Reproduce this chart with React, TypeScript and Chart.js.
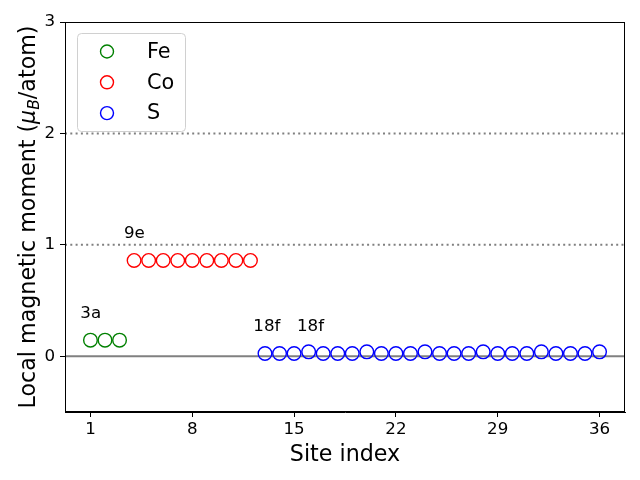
import { useEffect, useRef } from "react";
import { Chart, registerables } from "chart.js";

Chart.register(...registerables);

const feSites = [1, 2, 3];
const feMoments = [0.145, 0.145, 0.145];
const coSites = [4, 5, 6, 7, 8, 9, 10, 11, 12];
const coMoments = [0.86, 0.86, 0.86, 0.86, 0.86, 0.86, 0.86, 0.86, 0.86];
const sSites = [13, 14, 15, 16, 17, 18, 19, 20, 21, 22, 23, 24, 25, 26, 27, 28, 29, 30, 31, 32, 33, 34, 35, 36];
const sMoments = [
  0.025, 0.025, 0.025, 0.04, 0.025, 0.025, 0.025, 0.04, 0.025, 0.025, 0.025, 0.04,
  0.025, 0.025, 0.025, 0.04, 0.025, 0.025, 0.025, 0.04, 0.025, 0.025, 0.025, 0.04,
];
const xTicks = [1, 8, 15, 22, 29, 36];
const yTicks = [0, 1, 2, 3];
const annotationLabels = ["3a", "9e", "18f", "18f"];
const annotationX = [0.3, 3.3, 12.2, 15.2];
const annotationY = [0.345, 1.06, 0.225, 0.225];
const dottedLevels = [1, 2];
const solidLevels = [0];

const FONT = "'DejaVu Sans', sans-serif";

const overlay = {
  id: "overlay",
  beforeDatasetsDraw(chart: any) {
    const { ctx, chartArea, scales } = chart;
    ctx.save();
    ctx.strokeStyle = "#808080";
    ctx.lineWidth = 2;
    solidLevels.forEach((v) => {
      const y = scales.y.getPixelForValue(v);
      ctx.setLineDash([]);
      ctx.beginPath();
      ctx.moveTo(chartArea.left, y);
      ctx.lineTo(chartArea.right, y);
      ctx.stroke();
    });
    dottedLevels.forEach((v) => {
      const y = scales.y.getPixelForValue(v);
      ctx.setLineDash([2, 3.3]);
      ctx.beginPath();
      ctx.moveTo(chartArea.left, y);
      ctx.lineTo(chartArea.right, y);
      ctx.stroke();
    });
    ctx.restore();
  },
  afterDraw(chart: any) {
    const { ctx, chartArea, scales } = chart;
    ctx.save();
    // frame
    ctx.strokeStyle = "#000";
    ctx.lineWidth = 1;
    ctx.setLineDash([]);
    ctx.strokeRect(chartArea.left + 0.5, chartArea.top + 0.5, chartArea.right - chartArea.left - 1, chartArea.bottom - chartArea.top - 1);

    // annotations
    ctx.fillStyle = "#000";
    ctx.font = `16.7px ${FONT}`;
    ctx.textAlign = "left";
    ctx.textBaseline = "alphabetic";
    annotationLabels.forEach((t, i) => {
      ctx.fillText(t, scales.x.getPixelForValue(annotationX[i]), scales.y.getPixelForValue(annotationY[i]));
    });

    // legend
    const lx = 77, ly = 33, lw = 108, lh = 98;
    ctx.beginPath();
    ctx.roundRect(lx + 0.5, ly + 0.5, lw, lh, 4);
    ctx.fillStyle = "rgba(255,255,255,0.8)";
    ctx.fill();
    ctx.strokeStyle = "#d0d0d0";
    ctx.lineWidth = 1;
    ctx.stroke();
    chart.data.datasets.forEach((ds: any, i: number) => {
      const cy = 51.5 + i * 30.8;
      ctx.beginPath();
      ctx.arc(107, cy, 6.5, 0, Math.PI * 2);
      ctx.strokeStyle = ds.borderColor;
      ctx.lineWidth = 1.4;
      ctx.stroke();
      ctx.fillStyle = "#000";
      ctx.font = `20.8px ${FONT}`;
      ctx.textBaseline = "middle";
      ctx.fillText(ds.label, 147, cy + 1);
    });

    // x label
    ctx.font = `22.2px ${FONT}`;
    ctx.textAlign = "center";
    ctx.textBaseline = "alphabetic";
    ctx.fillStyle = "#000";
    ctx.fillText("Site index", (chartArea.left + chartArea.right) / 2, 461);

    // y label with math
    ctx.translate(27, (chartArea.top + chartArea.bottom) / 2);
    ctx.rotate(-Math.PI / 2);
    const normal = `22.2px ${FONT}`;
    const italic = `italic 22.2px ${FONT}`;
    const sub = `italic 15.5px ${FONT}`;
    const parts = [
      { t: "Local magnetic moment (", f: normal, dy: 0 },
      { t: "μ", f: italic, dy: 0 },
      { t: "B", f: sub, dy: 4 },
      { t: "/atom)", f: normal, dy: 0 },
    ];
    let total = 0;
    parts.forEach((p) => {
      ctx.font = p.f;
      total += ctx.measureText(p.t).width;
    });
    let x = -total / 2;
    ctx.textAlign = "left";
    ctx.textBaseline = "alphabetic";
    parts.forEach((p) => {
      ctx.font = p.f;
      ctx.fillText(p.t, x, 8 + p.dy);
      x += ctx.measureText(p.t).width;
    });
    ctx.restore();
  },
};

export default function App() {
  const ref = useRef<HTMLCanvasElement | null>(null);
  useEffect(() => {
    if (!ref.current) return;
    const mk = (xs: number[], ys: number[]) => xs.map((x, i) => ({ x, y: ys[i] }));
    const ds = (label: string, color: string, xs: number[], ys: number[]) => ({
      label,
      data: mk(xs, ys),
      borderColor: color,
      backgroundColor: "rgba(0,0,0,0)",
      pointRadius: 6.8,
      pointHoverRadius: 6.8,
      pointBorderWidth: 1.4,
      pointHoverBorderWidth: 1.4,
      showLine: false,
    });
    const chart = new Chart(ref.current, {
      type: "scatter",
      data: {
        datasets: [
          ds("Fe", "#008000", feSites, feMoments),
          ds("Co", "#ff0000", coSites, coMoments),
          ds("S", "#0000ff", sSites, sMoments),
        ],
      },
      options: {
        responsive: false,
        animation: false,
        events: [],
        layout: { padding: { left: 0, top: 22, right: 15, bottom: 0 } },
        plugins: { legend: { display: false }, tooltip: { enabled: false } },
        scales: {
          x: {
            type: "linear",
            min: -0.75,
            max: 37.75,
            afterBuildTicks: (s: any) => {
              s.ticks = xTicks.map((v) => ({ value: v }));
            },
            afterFit: (s: any) => {
              s.height = 68;
            },
            ticks: { color: "#000", font: { family: FONT, size: 16.7 }, padding: 3, maxRotation: 0, autoSkip: false },
            grid: { drawOnChartArea: false, tickLength: 5, tickColor: "#000", tickWidth: 1 },
            border: { color: "#000", width: 1 },
          },
          y: {
            type: "linear",
            min: -0.5,
            max: 3,
            afterBuildTicks: (s: any) => {
              s.ticks = yTicks.map((v) => ({ value: v }));
            },
            afterFit: (s: any) => {
              s.width = 65;
            },
            ticks: { color: "#000", font: { family: FONT, size: 16.7 }, padding: 5, autoSkip: false },
            grid: { drawOnChartArea: false, tickLength: 5, tickColor: "#000", tickWidth: 1 },
            border: { color: "#000", width: 1 },
          },
        },
      },
      plugins: [overlay],
    });
    return () => chart.destroy();
  }, []);
  return (
    <div style={{ position: "fixed", left: 0, top: 0, width: 640, height: 480, background: "#fff" }}>
      <canvas ref={ref} width={640} height={480} style={{ width: 640, height: 480 }} />
    </div>
  );
}
